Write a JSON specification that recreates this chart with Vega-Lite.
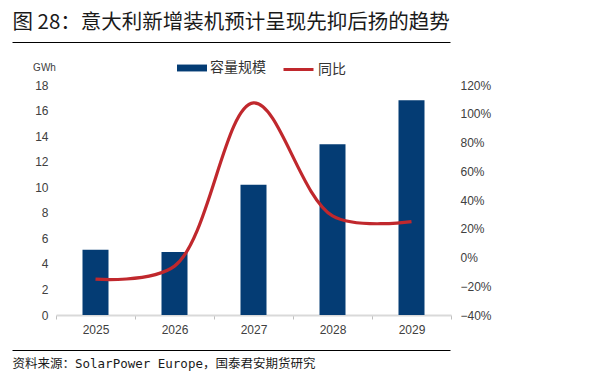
{
  "$schema": "https://vega.github.io/schema/vega-lite/v6.json",
  "width": 395,
  "height": 230,
  "autosize": {"type": "none"},
  "padding": {"left": 56, "top": 85, "right": 150, "bottom": 70},
  "background": "white",
  "config": {
    "view": {"stroke": null},
    "axis": {"labelFont": "Liberation Sans", "labelColor": "#404040", "labelFontSize": 12, "grid": false}
  },
  "datasets": {
    "main": [
      {"year": "2025", "capacity": 5.1, "yoy": -0.15},
      {"year": "2026", "capacity": 4.93, "yoy": -0.06},
      {"year": "2027", "capacity": 10.2, "yoy": 1.075},
      {"year": "2028", "capacity": 13.36, "yoy": 0.29},
      {"year": "2029", "capacity": 16.8, "yoy": 0.25}
    ],
    "frame": [{"v": 0}]
  },
  "layer": [
    {
      "data": {"name": "main"},
      "mark": {"type": "bar", "size": 26},
      "encoding": {
        "x": {
          "field": "year", "type": "ordinal",
          "scale": {"paddingInner": 0, "paddingOuter": 0},
          "axis": {
            "orient": "bottom", "title": null, "labelAngle": 0, "labelPadding": 5,
            "domainColor": "#D9D9D9", "domainWidth": 2,
            "tickBand": "extent", "tickColor": "#BFBFBF", "tickSize": 4, "tickWidth": 1
          }
        },
        "y": {
          "field": "capacity", "type": "quantitative",
          "scale": {"domain": [0, 18], "nice": false},
          "axis": {
            "orient": "left", "values": [0, 2, 4, 6, 8, 10, 12, 14, 16, 18],
            "domain": false, "ticks": false, "labelPadding": 8,
            "title": "GWh", "titleAngle": 0, "titleFont": "Liberation Sans", "titleFontSize": 10,
            "titleFontWeight": "normal", "titleColor": "#404040",
            "titleX": -12, "titleY": -15, "titleAlign": "center", "titleBaseline": "alphabetic"
          }
        },
        "fill": {
          "datum": "容量规模", "type": "nominal",
          "scale": {"range": ["#043C74"]},
          "legend": {
            "orient": "none", "legendX": 121, "legendY": -32, "title": null,
            "symbolType": "M-1,-0.23H1V0.23H-1Z", "symbolSize": 900, "symbolStrokeWidth": 0,
            "labelFont": "Noto Sans CJK SC", "labelFontSize": 14, "labelColor": "#333333", "labelOffset": 3
          }
        }
      }
    },
    {
      "data": {"name": "main"},
      "mark": {"type": "line", "interpolate": "catmull-rom", "strokeWidth": 3.2},
      "encoding": {
        "x": {"field": "year", "type": "ordinal", "scale": {"paddingInner": 0, "paddingOuter": 0}, "axis": null},
        "y": {
          "field": "yoy", "type": "quantitative",
          "scale": {"domain": [-0.4, 1.2], "nice": false},
          "axis": {
            "orient": "right", "values": [-0.4, -0.2, 0, 0.2, 0.4, 0.6, 0.8, 1.0, 1.2],
            "format": ".0%", "domain": false, "ticks": false, "labelPadding": 9, "title": null
          }
        },
        "stroke": {
          "datum": "同比", "type": "nominal",
          "scale": {"range": ["#C0282D"]},
          "legend": {
            "orient": "none", "legendX": 226, "legendY": -32, "title": null,
            "symbolType": "stroke", "symbolSize": 900, "symbolStrokeWidth": 3,
            "labelFont": "Noto Sans CJK SC", "labelFontSize": 14, "labelColor": "#333333", "labelOffset": 3
          }
        }
      }
    },
    {
      "data": {"name": "frame"},
      "mark": {"type": "point", "opacity": 0},
      "encoding": {
        "x": {
          "field": "v", "type": "quantitative",
          "scale": {"domain": [0, 1], "range": [-44, 394]},
          "axis": {"orient": "top", "offset": 43, "labels": false, "ticks": false, "grid": false,
                   "domainColor": "#000000", "domainWidth": 1,
                   "title": "图 28：意大利新增装机预计呈现先抑后扬的趋势",
                   "titleFont": "Noto Sans CJK SC", "titleFontSize": 20.5,
                   "titleFontWeight": "normal", "titleColor": "#1a1a1a",
                   "titleAnchor": "start", "titleAlign": "left", "titleBaseline": "alphabetic",
                   "titleX": -44, "titleY": -14}
        }
      }
    },
    {
      "data": {"name": "frame"},
      "mark": {"type": "point", "opacity": 0},
      "encoding": {
        "x": {
          "field": "v", "type": "quantitative",
          "scale": {"domain": [0, 1], "range": [-44, 394]},
          "axis": {"orient": "bottom", "offset": 35, "labels": false, "ticks": false, "grid": false,
                   "domainColor": "#000000", "domainWidth": 1,
                   "title": "资料来源：SolarPower Europe，国泰君安期货研究",
                   "titleFont": "DejaVu Sans Mono, Noto Sans CJK SC", "titleFontSize": 12.5,
                   "titleFontWeight": "normal", "titleColor": "#1a1a1a",
                   "titleAnchor": "start", "titleAlign": "left", "titleBaseline": "alphabetic",
                   "titleX": -44, "titleY": 17}
        }
      }
    }
  ],
  "resolve": {
    "scale": {"x": "independent", "y": "independent", "fill": "independent", "stroke": "independent"},
    "axis": {"x": "independent", "y": "independent"}
  }
}
